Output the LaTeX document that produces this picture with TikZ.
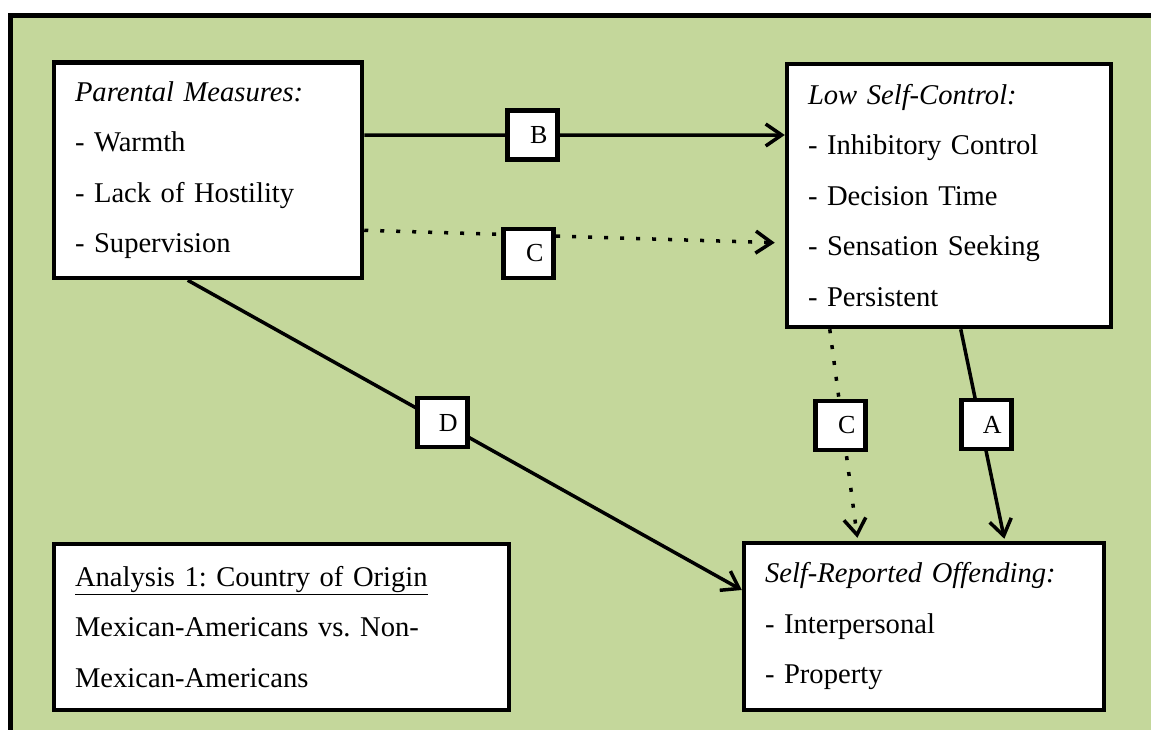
\documentclass[tikz,border=0pt]{standalone}
\usepackage{fontspec}
\setmainfont{Liberation Serif}
\usetikzlibrary{arrows.meta}
\definecolor{panelgreen}{HTML}{C4D79B}
\frenchspacing
\tikzset{
  measurebox/.style={draw, line width=4.5pt, fill=white, align=left, inner xsep=21pt,
    font=\fontsize{28.6}{50.5}\selectfont},
  pathlabel/.style={draw, solid, line width=4.5pt, fill=white, minimum width=50pt,
    minimum height=49pt, text width=30pt, inner xsep=10pt, align=right,
    font=\fontsize{26}{30}\selectfont},
  pathline/.style={line width=3.5pt, -{Straight Barb[length=16pt,width=22pt]}},
  dotline/.style={pathline, dash pattern=on 4pt off 12pt},
}

\begin{document}
\begin{tikzpicture}[x=1pt,y=-1pt]
  \useasboundingbox (0,0) rectangle (1151,730);
  \draw[line width=5pt, fill=panelgreen] (10.5,15.5) rectangle (1175,755);

  % the four boxes
  \node[measurebox, text width=266pt, minimum height=215.5pt] (parent) at (208,170.25)
    {\textit{Parental Measures:}\\- Warmth\\- Lack of Hostility\\- Supervision};
  \node[measurebox, text width=282pt, minimum height=263pt] (selfctrl) at (949,195.5)
    {\textit{Low Self-Control:}\\- Inhibitory Control\\- Decision Time\\- Sensation Seeking\\- Persistent};
  \node[measurebox, text width=318pt, minimum height=167pt] (offend) at (924,626.5)
    {\textit{Self-Reported Offending:}\\- Interpersonal\\- Property};
  \node[measurebox, text width=413pt, minimum height=166pt] (analysis) at (281.5,627)
    {\underline{Analysis 1: Country of Origin}\\Mexican-Americans vs. Non-\\Mexican-Americans};

  % paths
  \draw[pathline] ([yshift=35pt]parent.east) -- node[pathlabel, pos=0.4] (labB) {B}
    ([yshift=60.5pt]selfctrl.west);
  \draw[dotline, shorten >=10pt] ([yshift=-60pt]parent.east) --
    node[pathlabel, pos=0.4, yshift=-18pt, xshift=-4pt] (labC1) {C} ([yshift=-47.5pt]selfctrl.west);
  \draw[pathline] ([xshift=136pt]parent.south west) -- node[pathlabel, pos=0.46] (labD) {D}
    ([yshift=36.5pt]offend.west);
  \draw[dotline, shorten >=3pt] ([xshift=45pt]selfctrl.south west) --
    node[pathlabel, pos=0.455, xshift=-2pt] (labC2) {C} ([xshift=116pt]offend.north west);
  \draw[pathline, shorten >=2pt] ([xshift=176pt]selfctrl.south west) --
    node[pathlabel, pos=0.45, xshift=6pt] (labA) {A} ([xshift=263pt]offend.north west);
\end{tikzpicture}
\end{document}
